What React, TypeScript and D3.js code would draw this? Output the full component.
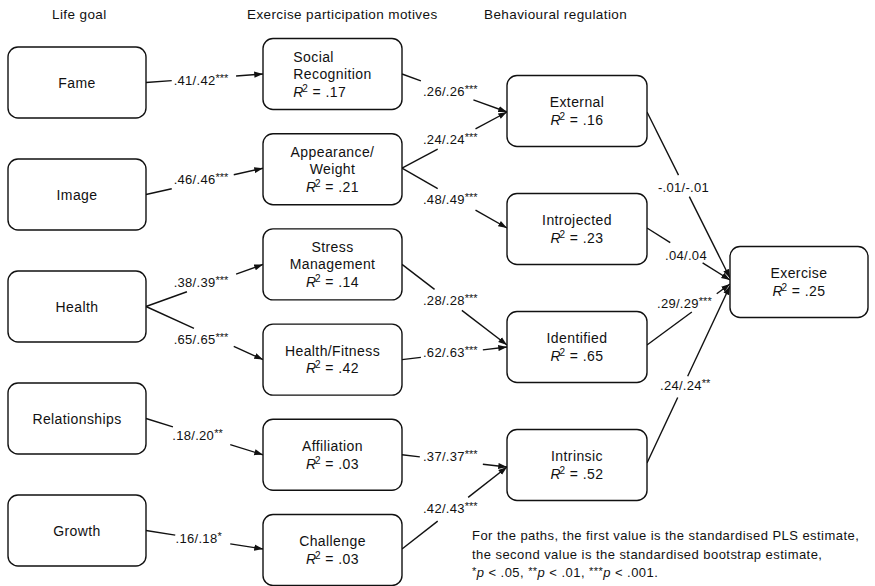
import React, { useEffect, useRef } from "react";
import * as d3 from "d3";

// ---------- data ----------
const columnTitles = ["Life goal", "Exercise participation motives", "Behavioural regulation"];
const lifeGoals = ["Fame", "Image", "Health", "Relationships", "Growth"];
const motives = ["Social\nRecognition", "Appearance/\nWeight", "Stress\nManagement", "Health/Fitness", "Affiliation", "Challenge"];
const motiveR2 = [0.17, 0.21, 0.14, 0.42, 0.03, 0.03];
const regulations = ["External", "Introjected", "Identified", "Intrinsic"];
const regulationR2 = [0.16, 0.23, 0.65, 0.52];
const outcomes = ["Exercise"];
const outcomeR2 = [0.25];

const pathFrom = [
  "Fame", "Image", "Health", "Health", "Relationships", "Growth",
  "Social\nRecognition", "Appearance/\nWeight", "Appearance/\nWeight", "Stress\nManagement",
  "Health/Fitness", "Affiliation", "Challenge",
  "External", "Introjected", "Identified", "Intrinsic",
];
const pathTo = [
  "Social\nRecognition", "Appearance/\nWeight", "Stress\nManagement", "Health/Fitness", "Affiliation", "Challenge",
  "External", "External", "Introjected", "Identified",
  "Identified", "Intrinsic", "Intrinsic",
  "Exercise", "Exercise", "Exercise", "Exercise",
];
const plsEstimates = [0.41, 0.46, 0.38, 0.65, 0.18, 0.16, 0.26, 0.24, 0.48, 0.28, 0.62, 0.37, 0.42, -0.01, 0.04, 0.29, 0.24];
const bootstrapEstimates = [0.42, 0.46, 0.39, 0.65, 0.20, 0.18, 0.26, 0.24, 0.49, 0.28, 0.63, 0.37, 0.43, -0.01, 0.04, 0.29, 0.24];
const significance = ["***", "***", "***", "***", "**", "*", "***", "***", "***", "***", "***", "***", "***", "", "", "***", "**"];

const footnoteLines = [
  "For the paths, the first value is the standardised PLS estimate,",
  "the second value is the standardised bootstrap estimate,",
];
const pThresholds = [".05", ".01", ".001"];

// ---------- layout (presentation only) ----------
const colLeft = [8, 263, 507, 730];
const colWidth = [138, 139, 140, 138];
const colRange: [number, number][] = [[82.5, 530.5], [74, 550], [111, 465], [282, 282]];
const boxH = 71;
const startDy = [0, 0, 0, 0, 0, 0, 0, -1, -1, 0, 0, 0, -1, 1, -1, -2, -2];
const endDy = [0, -1, 0, 0, 0, -1, 1, 1, -1, -2, 0, 2, 2, -4, -2, 2, 4];
const gapT0 = [0.22, 0.22, 0.35, 0.41, 0.23, 0.25, 0.18, 0.34, 0.34, 0.31, 0.18, 0.17, 0.34, 0.38, 0.28, 0.54, 0.37];
const gapT1 = [0.77, 0.75, 0.77, 0.75, 0.72, 0.72, 0.68, 0.70, 0.70, 0.57, 0.77, 0.77, 0.63, 0.51, 0.67, 0.84, 0.49];
const labelT = [0.47, 0.47, 0.47, 0.47, 0.44, 0.45, 0.46, 0.46, 0.46, 0.46, 0.46, 0.46, 0.46, 0.44, 0.47, 0.45, 0.46];
const labelDy = [2, -3, -4, 8, 1, 0, 0, -3, 4, -1, -1, -4, -3, 2, 3, -14, 4];

const FONT = "Arial, 'Liberation Sans', sans-serif";
const INK = "#111";

const fmt = (v: number) => d3.format(".2f")(v).replace("\u2212", "-").replace("0.", ".");

export default function App() {
  const ref = useRef<SVGSVGElement>(null);

  useEffect(() => {
    const svg = d3.select(ref.current!);
    svg.selectAll("*").remove();

    const defs = svg.append("defs");
    defs.append("marker")
      .attr("id", "arrow")
      .attr("viewBox", "0 -4 10 8")
      .attr("refX", 10).attr("refY", 0)
      .attr("markerWidth", 9).attr("markerHeight", 7)
      .attr("markerUnits", "userSpaceOnUse")
      .attr("orient", "auto")
      .append("path").attr("d", "M0,-3.5L10,0L0,3.5Z").attr("fill", INK);

    type N = { key: string; lines: string[]; r2?: number; col: number; row: number };
    const columns: { names: string[]; r2?: number[] }[] = [
      { names: lifeGoals },
      { names: motives, r2: motiveR2 },
      { names: regulations, r2: regulationR2 },
      { names: outcomes, r2: outcomeR2 },
    ];
    const yScales = columns.map((c, ci) =>
      d3.scalePoint<number>().domain(d3.range(c.names.length)).range(colRange[ci]).align(0.5)
    );
    const nodes: N[] = [];
    columns.forEach((c, ci) =>
      c.names.forEach((name, ri) =>
        nodes.push({ key: name, lines: name.split("\n"), r2: c.r2 ? c.r2[ri] : undefined, col: ci, row: ri })
      )
    );
    const nodeByKey = new Map(nodes.map((n) => [n.key, n]));
    const cx = (n: N) => colLeft[n.col] + colWidth[n.col] / 2;
    const cy = (n: N) => yScales[n.col](n.row)!;

    // column titles
    const titleX = [52, 247, 484];
    svg.selectAll("text.title").data(columnTitles).enter().append("text")
      .attr("class", "title")
      .attr("x", (_, i) => titleX[i]).attr("y", 19)
      .attr("font-family", FONT).attr("font-size", 13.5).attr("letter-spacing", 0.4)
      .attr("fill", INK).text((d) => d);

    // edges
    const eg = svg.append("g");
    pathFrom.forEach((f, i) => {
      const a = nodeByKey.get(f)!;
      const b = nodeByKey.get(pathTo[i])!;
      const x0 = colLeft[a.col] + colWidth[a.col];
      const y0 = cy(a) + startDy[i];
      const x1 = colLeft[b.col];
      const y1 = cy(b) + endDy[i];
      const lx = d3.interpolateNumber(x0, x1);
      const ly = d3.interpolateNumber(y0, y1);
      const line = d3.line();
      eg.append("path")
        .attr("d", line([[x0, y0], [lx(gapT0[i]), ly(gapT0[i])]]))
        .attr("stroke", INK).attr("stroke-width", 1.4).attr("fill", "none");
      eg.append("path")
        .attr("d", line([[lx(gapT1[i]), ly(gapT1[i])], [x1, y1]]))
        .attr("stroke", INK).attr("stroke-width", 1.4).attr("fill", "none")
        .attr("marker-end", "url(#arrow)");
      const t = eg.append("text")
        .attr("x", lx(labelT[i])).attr("y", ly(labelT[i]) + labelDy[i] + 4.5)
        .attr("text-anchor", "middle")
        .attr("font-family", FONT).attr("font-size", 13).attr("letter-spacing", 0.3)
        .attr("fill", INK);
      t.append("tspan").text(`${fmt(plsEstimates[i])}/${fmt(bootstrapEstimates[i])}`);
      if (significance[i]) {
        t.append("tspan").attr("font-size", 11).attr("dy", -3).attr("letter-spacing", 0).text(significance[i]);
      }
    });

    // boxes
    const ng = svg.append("g");
    nodes.forEach((n) => {
      const g = ng.append("g");
      g.append("rect")
        .attr("x", colLeft[n.col]).attr("y", cy(n) - boxH / 2)
        .attr("width", colWidth[n.col]).attr("height", boxH)
        .attr("rx", 10).attr("ry", 10)
        .attr("fill", "#fff").attr("stroke", INK).attr("stroke-width", 1.4);
      const total = n.lines.length + (n.r2 !== undefined ? 1 : 0);
      const lh = 17.5;
      const texts: any[] = [];
      n.lines.forEach((ln, li) => {
        const tx = g.append("text")
          .attr("x", cx(n)).attr("y", cy(n) + 5 + (li - (total - 1) / 2) * lh)
          .attr("text-anchor", "middle")
          .attr("font-family", FONT).attr("font-size", 14).attr("letter-spacing", 0.4)
          .attr("fill", INK).text(ln);
        texts.push(tx);
      });
      if (n.r2 !== undefined) {
        const li = n.lines.length;
        const tx = g.append("text")
          .attr("x", cx(n)).attr("y", cy(n) + 5 + (li - (total - 1) / 2) * lh)
          .attr("text-anchor", "middle")
          .attr("font-family", FONT).attr("font-size", 14).attr("letter-spacing", 0.4)
          .attr("fill", INK);
        tx.append("tspan").attr("font-style", "italic").text("R");
        tx.append("tspan").attr("font-size", 10).attr("dy", -5).attr("dx", -1.5).text("2");
        tx.append("tspan").attr("dy", 5).text(` = ${fmt(n.r2)}`);
        texts.push(tx);
      }
      // Social Recognition text block is left aligned in the reference
      if (n.key === motives[0]) {
        const widths = texts.map((t) => (t.node() as SVGTextElement).getComputedTextLength());
        const left = cx(n) - (d3.max(widths) as number) / 2;
        texts.forEach((t) => t.attr("text-anchor", "start").attr("x", left));
      }
    });

    // footnote
    const fx = 472;
    const fy = [540, 558.5, 577];
    footnoteLines.forEach((s, i) => {
      svg.append("text").attr("x", fx).attr("y", fy[i])
        .attr("font-family", FONT).attr("font-size", 13).attr("letter-spacing", 0.45)
        .attr("fill", INK).text(s);
    });
    const ft = svg.append("text").attr("x", fx).attr("y", fy[2])
      .attr("font-family", FONT).attr("font-size", 13).attr("letter-spacing", 0.45).attr("fill", INK);
    pThresholds.forEach((p, i) => {
      ft.append("tspan").attr("font-size", 11).attr("dy", -2).text("*".repeat(i + 1));
      ft.append("tspan").attr("dy", 2).attr("font-style", "italic").text("p");
      ft.append("tspan").text(` < ${p}${i < pThresholds.length - 1 ? ", " : "."}`);
    });
  }, []);

  return (
    <svg
      ref={ref}
      width={875}
      height={586}
      style={{ position: "absolute", left: 0, top: 0, background: "#fff", display: "block" }}
    />
  );
}
